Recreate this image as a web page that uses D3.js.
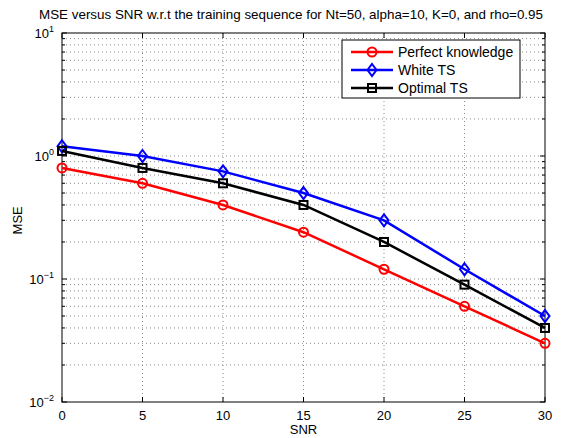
<!DOCTYPE html>
<html>
<head>
<meta charset="utf-8">
<script src="https://cdn.jsdelivr.net/npm/d3@7"></script>
<style>
  body { margin: 0; background: #fff; }
  svg { font-family: "Liberation Sans", Arial, sans-serif; }
</style>
</head>
<body>
<div id="chart"></div>
<script>
// data
const snr = [0, 5, 10, 15, 20, 25, 30];
const perfectKnowledge = [0.8, 0.6, 0.4, 0.24, 0.12, 0.06, 0.03];
const whiteTS = [1.2, 1.0, 0.75, 0.5, 0.3, 0.12, 0.05];
const optimalTS = [1.1, 0.8, 0.6, 0.4, 0.2, 0.09, 0.04];
const seriesNames = ["Perfect knowledge", "White TS", "Optimal TS"];
const xTicks = [0, 5, 10, 15, 20, 25, 30];
const yDecades = [-2, -1, 0, 1];

const width = 569, height = 438;
const margin = {top: 33, right: 24, bottom: 36, left: 62};
const w = width - margin.left - margin.right;
const h = height - margin.top - margin.bottom;

const svg = d3.select("#chart").append("svg")
    .attr("width", width)
    .attr("height", height);

const g = svg.append("g")
    .attr("transform", `translate(${margin.left},${margin.top})`);

const x = d3.scaleLinear().domain([0, 30]).range([0, w]);
const y = d3.scaleLog().domain([0.01, 10]).range([h, 0]);

// grid
const gridColor = "#8a8a8a";
xTicks.slice(1, -1).forEach(t => {
    g.append("line")
        .attr("x1", x(t)).attr("x2", x(t))
        .attr("y1", 0).attr("y2", h)
        .attr("stroke", gridColor).attr("stroke-width", 1)
        .attr("stroke-dasharray", "1,3");
});
let minor = [];
for (let e = -2; e < 1; e++) {
    for (let m = 1; m < 10; m++) minor.push(m * Math.pow(10, e));
}
minor = minor.filter(v => v > 0.01);
minor.forEach(v => {
    g.append("line")
        .attr("x1", 0).attr("x2", w)
        .attr("y1", y(v)).attr("y2", y(v))
        .attr("stroke", gridColor).attr("stroke-width", 1)
        .attr("stroke-dasharray", "1,3");
});

// ticks inside box
const tickLen = 5;
xTicks.forEach(t => {
    g.append("line").attr("x1", x(t)).attr("x2", x(t)).attr("y1", h).attr("y2", h - tickLen).attr("stroke", "#000");
    g.append("line").attr("x1", x(t)).attr("x2", x(t)).attr("y1", 0).attr("y2", tickLen).attr("stroke", "#000");
    g.append("text")
        .attr("x", x(t)).attr("y", h + 18)
        .attr("text-anchor", "middle")
        .attr("font-size", 13)
        .text(t);
});
minor.concat([0.01, 10]).forEach(v => {
    const major = Math.abs(Math.log10(v) - Math.round(Math.log10(v))) < 1e-9;
    const len = major ? tickLen : 3;
    g.append("line").attr("x1", 0).attr("x2", len).attr("y1", y(v)).attr("y2", y(v)).attr("stroke", "#000");
    g.append("line").attr("x1", w).attr("x2", w - len).attr("y1", y(v)).attr("y2", y(v)).attr("stroke", "#000");
});
yDecades.forEach(e => {
    const t = g.append("text")
        .attr("x", -8).attr("y", y(Math.pow(10, e)) + 5)
        .attr("text-anchor", "end")
        .attr("font-size", 13);
    t.append("tspan").text("10");
    t.append("tspan").attr("dy", -6).attr("font-size", 9).text(e < 0 ? "\u2212" + Math.abs(e) : e);
});

// axis box
g.append("rect")
    .attr("width", w).attr("height", h)
    .attr("fill", "none").attr("stroke", "#000").attr("stroke-width", 1);

// lines
const line = d3.line()
    .x((d, i) => x(snr[i]))
    .y(d => y(d));

const series = [
    {name: seriesNames[0], values: perfectKnowledge, color: "#ff0000", marker: "circle"},
    {name: seriesNames[1], values: whiteTS, color: "#0000ff", marker: "diamond"},
    {name: seriesNames[2], values: optimalTS, color: "#000000", marker: "square"}
];

function drawMarker(sel, type, cx, cy, color) {
    if (type === "circle") {
        sel.append("circle").attr("cx", cx).attr("cy", cy).attr("r", 4.5)
            .attr("fill", "none").attr("stroke", color).attr("stroke-width", 2);
    } else if (type === "diamond") {
        sel.append("path")
            .attr("d", `M${cx},${cy - 6}L${cx + 4.5},${cy}L${cx},${cy + 6}L${cx - 4.5},${cy}Z`)
            .attr("fill", "none").attr("stroke", color).attr("stroke-width", 2);
    } else {
        sel.append("rect").attr("x", cx - 4).attr("y", cy - 4).attr("width", 8).attr("height", 8)
            .attr("fill", "none").attr("stroke", color).attr("stroke-width", 2);
    }
}

series.forEach(s => {
    g.append("path")
        .datum(s.values)
        .attr("d", line)
        .attr("fill", "none")
        .attr("stroke", s.color)
        .attr("stroke-width", 2.5);
    s.values.forEach((v, i) => drawMarker(g, s.marker, x(snr[i]), y(v), s.color));
});

// legend
const lg = svg.append("g").attr("transform", "translate(342,40)");
lg.append("rect")
    .attr("width", 178).attr("height", 58)
    .attr("fill", "#fff").attr("stroke", "#000").attr("stroke-width", 1);
series.forEach((s, i) => {
    const ly = 12 + i * 18;
    lg.append("line").attr("x1", 9).attr("x2", 51).attr("y1", ly).attr("y2", ly)
        .attr("stroke", s.color).attr("stroke-width", 2.5);
    drawMarker(lg, s.marker, 30, ly, s.color);
    lg.append("text").attr("x", 56).attr("y", ly + 5)
        .attr("font-size", 14).text(s.name);
});

// title and axis labels
svg.append("text")
    .attr("x", 291).attr("y", 19)
    .attr("text-anchor", "middle")
    .attr("font-size", 13.4)
    .text("MSE versus SNR w.r.t the training sequence for Nt=50, alpha=10, K=0, and rho=0.95");

svg.append("text")
    .attr("x", margin.left + w / 2).attr("y", height - 4)
    .attr("text-anchor", "middle")
    .attr("font-size", 13)
    .text("SNR");

svg.append("text")
    .attr("transform", `translate(22,${margin.top + y(0.3)}) rotate(-90)`)
    .attr("text-anchor", "middle")
    .attr("font-size", 13)
    .text("MSE");
</script>
</body>
</html>
